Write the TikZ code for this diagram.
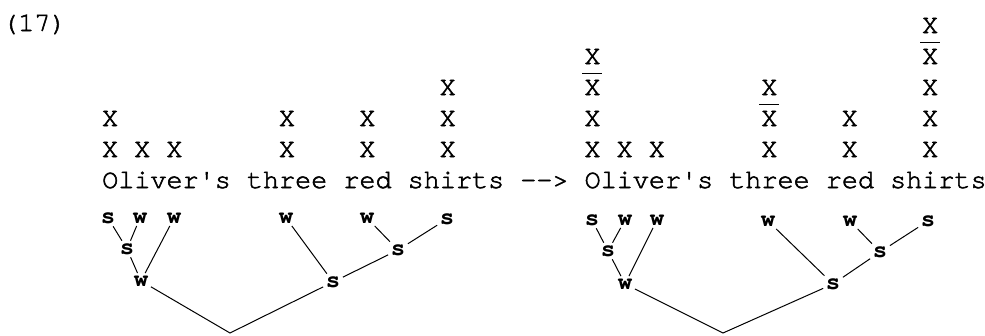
\documentclass[tikz,border=0pt]{standalone}
\usepackage{fontspec}
\newfontfamily\twfam[Ligatures=TeXOff,FakeBold=2]{TeX Gyre Cursor}
\newfontfamily\twbfam[Ligatures=TeXOff]{TeX Gyre Cursor Bold}
\newcommand\twtext{\twfam\fontsize{26.8pt}{28pt}\selectfont}
\newcommand\twtree{\twbfam\fontsize{24pt}{25pt}\selectfont}
\tikzset{
  txt/.style={font=\twtext, inner sep=0pt, anchor=base west},
  xmark/.style={font=\twtext, inner sep=0pt, anchor=base},
  tl/.style={font=\twtree, inner sep=2.5pt},
  bar/.style={line width=1.3pt},
  edge/.style={line width=1pt}
}
\begin{document}
\begin{tikzpicture}[x=1pt,y=-1pt]
\useasboundingbox (0,0) rectangle (985,335);
% example number
\node[txt] (num) at (2,31) {(17)};
% text line
\foreach \c/\w/\nm in {0/Oliver's/o1,9/three/t1,15/red/r1,19/shirts/s1,26/-->/ar,30/Oliver's/o2,39/three/t2,45/red/r2,49/shirts/s2}
  \node[txt] (\nm) at ({102+16.08*\c},188) {\w};
% grid marks
\foreach \c/\n in {0/2,2/1,4/1,11/2,16/2,21/3,30/4,32/1,34/1,41/3,46/2,51/5}
  \foreach \r in {1,...,\n}
    \node[xmark] (x\c-\r) at ({110.04+16.08*\c},{188-31*\r}) {X};
% bars
\foreach \c/\r in {30/3,41/2,51/4}
  \draw[bar] ({110.04+16.08*\c-10},{188-31*\r-21.5}) -- ++(20,0);
% left tree
\node[tl] (ls1) at (108,218) {s};
\node[tl] (lw1) at (140,218) {w};
\node[tl] (lw2) at (174,218) {w};
\node[tl] (lS)  at (127,249) {s};
\node[tl] (lW)  at (141,281) {w};
\node[tl] (lw3) at (286,218) {w};
\node[tl] (lw4) at (367,218) {w};
\node[tl] (ls2) at (447,219) {s};
\node[tl] (lsm) at (398,250) {s};
\node[tl] (lsl) at (333,282) {s};
\coordinate (lroot) at (230,333);
\draw[edge] (ls1) -- (lS);
\draw[edge] (lw1) -- (lS);
\draw[edge] (lS) -- (lW);
\draw[edge] (lw2) -- (lW);
\draw[edge] (lW) -- (lroot) -- (lsl);
\draw[edge] (lw3) -- (lsl);
\draw[edge] (lsl) -- (lsm);
\draw[edge] (lw4) -- (lsm);
\draw[edge] (lsm) -- (ls2);
% right tree
\node[tl] (rs1) at (592,220) {s};
\node[tl] (rw1) at (625,220) {w};
\node[tl] (rw2) at (657,220) {w};
\node[tl] (rS)  at (608,251) {s};
\node[tl] (rW)  at (625,284) {w};
\node[tl] (rw3) at (768,221) {w};
\node[tl] (rw4) at (850,221) {w};
\node[tl] (rs2) at (928,221) {s};
\node[tl] (rsm) at (880,252) {s};
\node[tl] (rsl) at (833,284) {s};
\coordinate (rroot) at (723,333);
\draw[edge] (rs1) -- (rS);
\draw[edge] (rw1) -- (rS);
\draw[edge] (rS) -- (rW);
\draw[edge] (rw2) -- (rW);
\draw[edge] (rW) -- (rroot) -- (rsl);
\draw[edge] (rw3) -- (rsl);
\draw[edge] (rsl) -- (rsm);
\draw[edge] (rw4) -- (rsm);
\draw[edge] (rsm) -- (rs2);
\end{tikzpicture}
\end{document}
